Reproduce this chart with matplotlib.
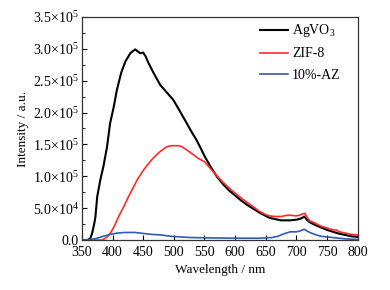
import numpy as np
import matplotlib
matplotlib.use("Agg")
import matplotlib.pyplot as plt
from matplotlib.ticker import MultipleLocator, FuncFormatter

plt.rcParams['font.family'] = ['Liberation Serif', 'DejaVu Serif']
plt.rcParams['mathtext.fontset'] = 'custom'
plt.rcParams['mathtext.rm'] = 'Liberation Serif'
plt.rcParams['mathtext.it'] = 'Liberation Serif:italic'

# AgVO3 emission (wavelength nm, intensity in 1e5 a.u.)
agvo3_wl = [350, 355, 360, 364, 367, 370, 372, 375, 380, 385, 391, 396, 402, 407,
            414, 421, 429, 437, 441, 445, 450, 454, 459, 467, 478, 488, 499, 510,
            520, 530, 537, 545, 550, 560, 570, 580, 590, 600, 610, 620, 630, 640,
            650, 656, 665, 675, 690, 700, 708, 713, 718, 722, 730, 740, 750, 760,
            770, 780, 790, 800]
agvo3_i = [0, 0, 0.005, 0.03, 0.12, 0.25, 0.36, 0.68, 0.94, 1.15, 1.46, 1.83, 2.09, 2.35,
           2.62, 2.80, 2.93, 2.99, 2.96, 2.93, 2.94, 2.88, 2.77, 2.62, 2.43, 2.32, 2.2, 2.02,
           1.85, 1.68, 1.57, 1.42, 1.32, 1.15, 1.0, 0.88, 0.78, 0.70, 0.62, 0.55, 0.49, 0.43,
           0.38, 0.35, 0.33, 0.31, 0.31, 0.32, 0.34, 0.37, 0.31, 0.28, 0.24, 0.20, 0.16, 0.13,
           0.10, 0.08, 0.06, 0.05]

# ZIF-8 emission
zif_wl = [350, 380, 383, 390, 396, 403, 410, 418, 426, 433, 440, 450, 457, 464,
          471, 478, 488, 495, 500, 507, 512, 520, 529, 540, 550, 560, 570, 580,
          590, 597, 610, 620, 630, 640, 650, 656, 665, 675, 685, 690, 700, 705, 710,
          714, 718, 722, 730, 740, 750, 760, 765, 770, 780, 790, 800]
zif_i = [0, 0, 0, 0.04, 0.10, 0.22, 0.37, 0.52, 0.68, 0.81, 0.94, 1.09, 1.18, 1.26,
         1.33, 1.39, 1.46, 1.48, 1.48, 1.48, 1.47, 1.42, 1.36, 1.28, 1.23, 1.12, 1.01, 0.91,
         0.82, 0.76, 0.66, 0.59, 0.52, 0.45, 0.40, 0.38, 0.37, 0.37, 0.39, 0.39, 0.38, 0.39, 0.41,
         0.42, 0.35, 0.30, 0.27, 0.22, 0.19, 0.16, 0.16, 0.13, 0.11, 0.09, 0.08]

# 10%-AZ emission
az_wl = [350, 358, 366, 375, 385, 396, 408, 420, 430, 437, 450, 464, 480, 495, 510,
         530, 560, 600, 640, 660, 670, 680, 690, 700, 705, 713, 718, 722, 730, 740,
         750, 760, 770, 780, 800]
az_i = [0, 0.0, 0.01, 0.03, 0.06, 0.09, 0.11, 0.12, 0.12, 0.12, 0.105, 0.09, 0.08, 0.06, 0.05,
        0.04, 0.035, 0.03, 0.03, 0.04, 0.06, 0.10, 0.13, 0.13, 0.14, 0.17, 0.14, 0.12, 0.09, 0.06,
        0.05, 0.04, 0.03, 0.02, 0.01]

x_ticks = [350, 400, 450, 500, 550, 600, 650, 700, 750, 800]
y_labels = {0.0: '0.0', 0.5e5: r'5.0$\times$10$^4$', 1.0e5: r'1.0$\times$10$^5$',
            1.5e5: r'1.5$\times$10$^5$', 2.0e5: r'2.0$\times$10$^5$',
            2.5e5: r'2.5$\times$10$^5$', 3.0e5: r'3.0$\times$10$^5$',
            3.5e5: r'3.5$\times$10$^5$'}

fig = plt.figure(figsize=(3.9, 2.9), dpi=100)
ax = fig.add_axes([0.210, 0.172, 0.707, 0.770])

ax.plot(agvo3_wl, np.array(agvo3_i) * 1e5, color='black', lw=1.5, label=r'AgVO$_3$')
ax.plot(zif_wl, np.array(zif_i) * 1e5, color='#ff2a2a', lw=1.2, label='ZIF-8')
ax.plot(az_wl, np.array(az_i) * 1e5, color='#2f5bb5', lw=1.2, label='10%-AZ')

ax.set_xlim(350, 800)
ax.set_ylim(0, 3.5e5)
ax.set_xticks(x_ticks)
ax.yaxis.set_major_locator(MultipleLocator(0.5e5))
ax.yaxis.set_minor_locator(MultipleLocator(0.25e5))
ax.yaxis.set_major_formatter(FuncFormatter(lambda v, p: y_labels.get(round(v, -3), '')))
ax.tick_params(direction='in', labelsize=10, length=3.5, width=0.8)
ax.tick_params(axis='x', pad=4)
ax.tick_params(axis='y', pad=2)
ax.tick_params(which='minor', direction='in', length=2, width=0.6)
for s in ax.spines.values():
    s.set_linewidth(0.9)
    s.set_color('#333333')

ax.set_xlabel('Wavelength / nm', fontsize=9.5, labelpad=4)
ax.set_ylabel('Intensity / a.u.', fontsize=9.5, labelpad=3)

ax.legend(loc='upper left', bbox_to_anchor=(0.646, 0.975), frameon=False, fontsize=10,
          handlelength=2.0, handletextpad=0.3, labelspacing=0.58,
          borderpad=0, borderaxespad=0)

fig.savefig('out.png', dpi=100)
